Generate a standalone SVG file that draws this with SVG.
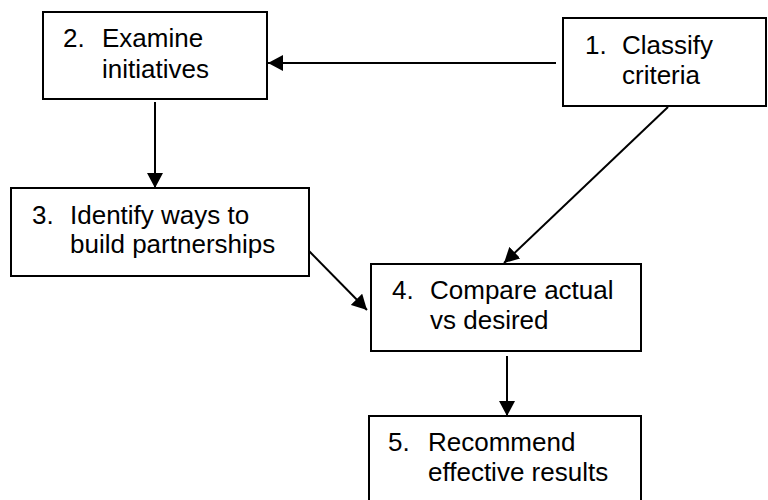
<svg xmlns="http://www.w3.org/2000/svg" width="768" height="500" viewBox="0 0 768 500">
<style>
.box{fill:#fff;stroke:#000;stroke-width:2}
.t{font-family:"Liberation Sans",Arial,sans-serif;font-size:26px;fill:#000}
.c{stroke:#000;stroke-width:2;fill:none;marker-end:url(#ah)}
</style>
<defs>
<marker id="ah" markerUnits="userSpaceOnUse" markerWidth="16" markerHeight="16" refX="15" refY="8" orient="auto" viewBox="0 0 16 16">
<path d="M0,0 L15,8 L0,16 z" fill="#000"/>
</marker>
</defs>
<rect width="768" height="500" fill="#fff"/>
<g id="n2"><rect class="box" x="43" y="12" width="224" height="87"/>
<text class="t" x="63" y="47">2.</text><text class="t" x="102" y="47">Examine</text><text class="t" x="102" y="78">initiatives</text></g>
<g id="n1"><rect class="box" x="563" y="18" width="203" height="88"/>
<text class="t" x="585" y="54">1.</text><text class="t" x="622" y="54">Classify</text><text class="t" x="622" y="84">criteria</text></g>
<g id="n3"><rect class="box" x="11" y="188" width="298" height="88"/>
<text class="t" x="32" y="224">3.</text><text class="t" x="70" y="224">Identify ways to</text><text class="t" x="70" y="253">build partnerships</text></g>
<g id="n4"><rect class="box" x="371" y="264" width="270" height="87"/>
<text class="t" x="392" y="299">4.</text><text class="t" x="430" y="299">Compare actual</text><text class="t" x="430" y="329">vs desired</text></g>
<g id="n5"><rect class="box" x="369" y="416" width="272" height="90"/>
<text class="t" x="388" y="451">5.</text><text class="t" x="428" y="451">Recommend</text><text class="t" x="428" y="481">effective results</text></g>
<g id="connectors">
<line class="c" x1="556" y1="63" x2="268" y2="63"/>
<line class="c" x1="155" y1="102" x2="155" y2="188"/>
<line class="c" x1="668" y1="107" x2="504" y2="263"/>
<line class="c" x1="309" y1="251" x2="367" y2="310"/>
<line class="c" x1="507" y1="356" x2="507" y2="416"/>
</g>
</svg>
